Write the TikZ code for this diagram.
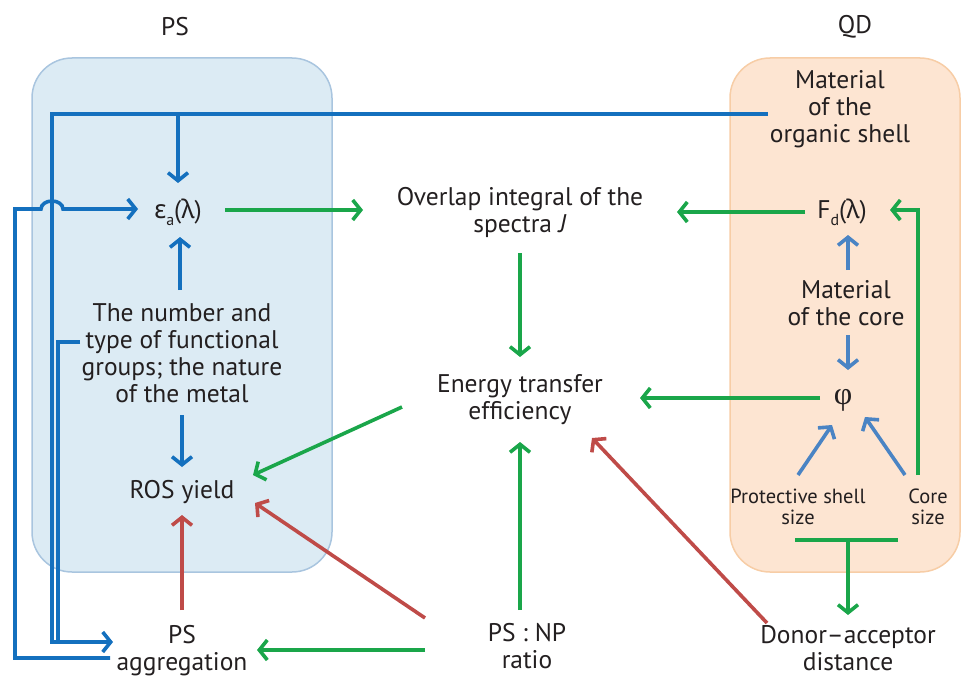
\documentclass[tikz,border=0pt]{standalone}
\usepackage{fontspec}
\setmainfont{PT Sans}
\newfontfamily\phifont{Liberation Serif}
\newfontfamily\grk{Noto Sans}
\usetikzlibrary{arrows.meta,calc}
\definecolor{cblue}{HTML}{1470BE}
\definecolor{csteel}{HTML}{4A84C4}
\definecolor{cgreen}{HTML}{1AA64A}
\definecolor{cred}{HTML}{BF4B48}
\definecolor{ctext}{HTML}{231F20}
\definecolor{psfill}{HTML}{DCEBF4}
\definecolor{psdraw}{HTML}{A9C5DF}
\definecolor{qdfill}{HTML}{FDE5D2}
\definecolor{qddraw}{HTML}{F7CDA6}
\tikzset{
  lbl/.style={align=center,font=\fontsize{25.5}{27}\selectfont,text=ctext,inner sep=0pt},
  small/.style={align=center,font=\fontsize{20.5}{21.5}\selectfont,text=ctext,inner sep=0pt},
  wire/.style={line width=3.6pt},
  conn/.style={wire,-{Straight Barb[length=8pt,width=20pt]}},
  blc/.style={conn,draw=cblue},
  bll/.style={wire,draw=cblue},
  stc/.style={conn,draw=csteel},
  grc/.style={conn,draw=cgreen},
  grl/.style={wire,draw=cgreen},
  rdc/.style={conn,draw=cred},
  panel/.style={rounded corners=40pt,line width=1.5pt}
}
\newcommand{\subsc}[1]{\raisebox{-7pt}{\fontsize{16}{16}\selectfont #1}}
\begin{document}
\begin{tikzpicture}[x=1pt,y=-1pt]
\path[use as bounding box] (0,0) rectangle (963,677);
% panels
\path[panel,fill=psfill,draw=psdraw] (32,58) rectangle (332,572);
\path[panel,fill=qdfill,draw=qddraw] (730,58) rectangle (960,572);
% titles
\node[lbl] (tps) at (175,27) {PS};
\node[lbl] (tqd) at (855,27) {QD};
% nodes
\node[lbl] (eps) at (178,212) {{\grk ε}\subsc{a}({\grk λ})};
\node[lbl] (ovl) at (520,212) {Overlap integral of the\\spectra \textit{J}};
\node[lbl] (fd) at (842,212) {F\subsc{d}({\grk λ})};
\node[lbl] (matorg) at (840,109) {Material\\of the\\organic shell};
\node[lbl] (num) at (182,353) {The number and\\type of functional\\groups; the nature\\of the metal};
\node[lbl] (matcore) at (846,303) {Material\\of the core};
\node[lbl,font=\fontsize{32}{32}\phifont] (phi) at (843,400) {φ};
\node[lbl] (ete) at (520,400) {Energy transfer\\efficiency};
\node[lbl] (ros) at (182,492) {ROS yield};
\node[small] (prot) at (798,507) {Protective shell\\size};
\node[small] (core) at (928,507) {Core\\size};
\node[lbl] (psagg) at (182,651) {PS\\aggregation};
\node[lbl] (psnp) at (527,646) {PS : NP\\ratio};
\node[lbl] (dad) at (848,648) {Donor–acceptor\\distance};
% green connectors
\draw[grc] ($(eps)+(47,-2)$) -- ($(ovl)+(-157,-2)$);
\draw[grc] ($(fd)+(-37,0)$) -- ($(ovl)+(157,0)$);
\draw[grc] ($(ovl)+(0,41)$) -- ($(ete)+(0,-43)$);
\draw[grc] ($(phi)+(-23,-2)$) -- ($(ete)+(120,-2)$);
\draw[grc] ($(ete)+(-118,7)$) -- ($(ros)+(71,-17)$);
\draw[grc] ($(psnp)+(-102,4)$) -- ($(psagg)+(75,-1)$);
\draw[grc] ($(psnp)+(-7,-36)$) -- ($(ete)+(0,42)$);
\draw[grc] ($(core)+(-10,-32)$) |- ($(fd)+(48,-2)$);
\coordinate (brl) at ($(dad)+(-53,-108)$);
\coordinate (brr) at ($(dad)+(50,-108)$);
\coordinate (brm) at ($(dad)+(0,-108)$);
\draw[grl] (brl) -- (brr);
\draw[grc] (brm) -- ($(dad)+(0,-33)$);
% red connectors
\draw[rdc] ($(psnp)+(-102,-28)$) -- ($(ros)+(73,11)$);
\draw[rdc] ($(dad)+(-81,-25)$) -- ($(ete)+(72,38)$);
\draw[rdc] ($(psagg)+(0,-41)$) -- ($(ros)+(0,23)$);
% blue connectors (PS side)
\draw[blc] ($(num)+(0,62)$) -- ($(ros)+(0,-25)$);
\draw[blc] ($(num)+(-2,-63)$) -- ($(eps)+(2,25)$);
\draw[bll] ($(num)+(-102,-11)$) -| (58,642);
\draw[blc] ($(matorg)+(-72,5)$) -| (52,642) -- ($(psagg)+(-69,-9)$);
\draw[blc] ($(eps)+(0,-98)$) -- ($(eps)+(0,-29)$);
\draw[blc] ($(psagg)+(-72,7)$) -| (15,209) -- (41,209)
  arc[start angle=180,end angle=0,x radius=11pt,y radius=8pt] -- ($(eps)+(-40,-3)$);
% steel blue (QD side)
\draw[stc] ($(matcore)+(2,-33)$) -- ($(fd)+(6,23)$);
\draw[stc] ($(matcore)+(2,32)$) -- ($(phi)+(5,-30)$);
\draw[stc] ($(prot)+(0,-32)$) -- ($(phi)+(-11,25)$);
\draw[stc] ($(core)+(-23,-32)$) -- ($(phi)+(22,17)$);
\end{tikzpicture}
\end{document}
